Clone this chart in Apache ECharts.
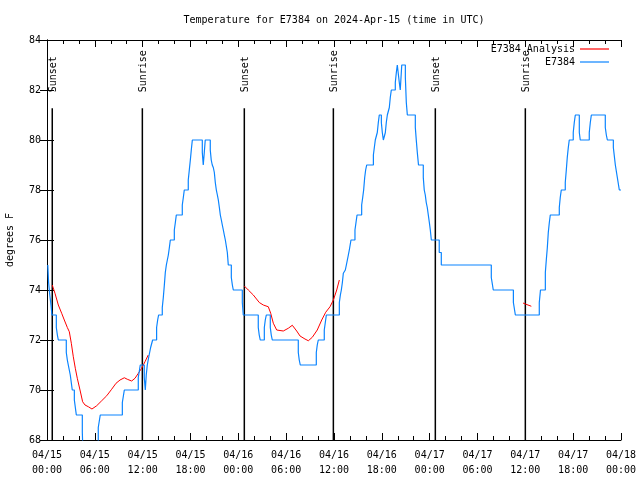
<!DOCTYPE html>
<html><head><meta charset="utf-8">
<script src="https://cdn.jsdelivr.net/npm/echarts@6/dist/echarts.min.js"></script>
<style>html,body{margin:0;padding:0;background:#fff}#c{width:640px;height:480px}</style>
</head><body><div id="c"></div>
<script>
// ---- data (x in hours since 2024-04-15 00:00 UTC) ----
const xTickLabels = ['04/15\n00:00','04/15\n06:00','04/15\n12:00','04/15\n18:00',
  '04/16\n00:00','04/16\n06:00','04/16\n12:00','04/16\n18:00',
  '04/17\n00:00','04/17\n06:00','04/17\n12:00','04/17\n18:00','04/18\n00:00'];

const sunTimes  = [0.66, 11.96, 24.75, 35.92, 48.71, 60.0];
const sunLabels = ['Sunset','Sunrise','Sunset','Sunrise','Sunset','Sunrise'];

// E7384 observations (value held until next point)
const obsE7384 = [
 [0.1,75],[0.2,74.3],[0.35,73.8],[0.5,73.4],[0.62,73],
 [1.17,72.5],[1.3,72.2],[1.42,72],
 [2.42,71.5],[2.55,71.2],[2.67,71],
 [2.92,70.6],[3.17,70],
 [3.43,69.6],[3.68,69],
 [4.43,68.3],[4.56,67],
 [6.43,68.5],[6.68,69],
 [9.45,69.5],[9.7,70],
 [11.45,70.5],[11.7,71],
 [12.2,70.5],[12.33,70],[12.45,70.6],[12.58,71],
 [12.75,71.3],[13.0,71.7],[13.25,72],
 [13.75,72.5],[13.88,72.8],[14.0,73],
 [14.46,73.3],[14.59,73.7],[14.72,74.2],[14.84,74.7],[14.97,75],
 [15.22,75.4],[15.35,75.7],[15.47,76],
 [15.97,76.4],[16.1,76.7],[16.22,77],
 [16.97,77.4],[17.1,77.7],[17.22,78],
 [17.72,78.4],[17.85,78.8],[17.98,79.2],[18.1,79.6],[18.23,80],
 [19.48,79.5],[19.6,79],[19.73,79.5],[19.85,80],
 [20.48,79.6],[20.6,79.2],[20.73,79],[20.86,78.9],[20.99,78.7],[21.11,78.3],[21.24,78],
 [21.37,77.8],[21.49,77.6],[21.62,77.3],[21.74,77],[21.87,76.8],[21.99,76.6],[22.12,76.4],
 [22.24,76.2],[22.37,76],[22.62,75.5],[22.74,75],
 [23.12,74.5],[23.25,74.2],[23.37,74],
 [24.5,73.5],[24.62,73],
 [26.5,72.5],[26.62,72.2],[26.75,72],
 [27.26,72.5],[27.38,72.8],[27.51,73],
 [28.01,72.5],[28.13,72.2],[28.26,72],
 [31.52,71.5],[31.64,71.2],[31.77,71],
 [33.78,71.5],[33.9,71.8],[34.03,72],
 [34.78,72.4],[34.91,72.7],[35.04,73],
 [36.67,73.5],[36.8,73.8],[36.92,74],
 [37.05,74.3],[37.17,74.67],[37.42,74.8],[37.55,75],[37.8,75.4],[37.92,75.6],[38.13,76],
 [38.63,76.4],[38.76,76.7],[38.89,77],
 [39.47,77.4],[39.6,77.7],[39.72,78],
 [39.85,78.5],[39.97,78.8],[40.1,79],
 [40.94,79.4],[41.06,79.7],[41.18,80],
 [41.43,80.3],[41.56,80.7],[41.68,81],
 [41.94,80.7],[42.06,80.3],[42.19,80],
 [42.44,80.3],[42.56,80.7],[42.69,81],
 [42.94,81.3],[43.06,81.7],[43.19,82],
 [43.69,82.3],[43.82,82.7],[43.94,83],
 [44.19,82.3],[44.31,82],[44.5,83],
 [44.95,82.5],[45.07,81.5],[45.2,81],
 [46.2,80.5],[46.32,80],[46.45,79.5],[46.6,79],
 [47.2,78.5],[47.32,78],[47.45,77.8],[47.57,77.5],[47.7,77.3],[47.83,77],[47.96,76.7],[48.08,76.4],[48.21,76],
 [49.2,75.5],[49.46,75],
 [55.73,74.5],[55.98,74],
 [58.5,73.5],[58.75,73],
 [61.75,73.5],[61.9,74],
 [62.51,74.7],[62.63,75.2],[62.76,75.7],[62.88,76.3],[63.01,76.7],[63.13,77],
 [64.26,77.3],[64.38,77.7],[64.51,78],
 [65.01,78.3],[65.14,78.8],[65.26,79.3],[65.39,79.7],[65.51,80],
 [66.01,80.3],[66.14,80.7],[66.27,81],
 [66.77,80.3],[66.89,80],
 [68.02,80.3],[68.15,80.7],[68.28,81],
 [70.03,80.5],[70.16,80.2],[70.29,80],
 [71.04,79.7],[71.29,79],[71.54,78.5],[71.79,78],[72,78]
];

// E7384 Analysis (three separate segments)
const analysisSeg1 = [
 [0.66,74.2],[1.0,73.87],[1.42,73.4],[1.84,73.07],[2.17,72.8],[2.55,72.5],[2.8,72.33],
 [3.05,71.87],[3.3,71.33],[3.55,70.87],[3.8,70.47],[4.14,70.0],[4.47,69.53],[4.77,69.4],
 [5.19,69.33],[5.64,69.24],[6.23,69.37],[6.86,69.57],[7.49,69.77],[8.11,70.03],[8.66,70.27],
 [9.16,70.4],[9.7,70.49],[10.07,70.43],[10.62,70.36],[11.04,70.47],[11.46,70.67],[11.87,70.87],
 [12.29,71.13],[12.7,71.4]
];
const analysisSeg2 = [
 [24.75,74.16],[25.25,74.0],[25.88,73.8],[26.63,73.5],[27.13,73.4],[27.76,73.33],[28.06,73.07],
 [28.39,72.67],[28.81,72.4],[29.64,72.36],[30.27,72.47],[30.77,72.59],[31.32,72.36],[31.74,72.16],
 [32.36,72.04],[32.78,71.97],[33.28,72.11],[33.9,72.4],[34.46,72.8],[34.96,73.11],[35.5,73.33],
 [35.92,73.6],[36.34,74.0],[36.67,74.4]
];
const analysisSeg3 = [[59.71,73.48],[60.0,73.44],[60.25,73.39],[60.75,73.35]];

// ---- chart ----
const FONT = '"DejaVu Sans Mono", monospace';
const sunLineTop = 81.27;
const analysisData = analysisSeg1.concat([[18, null]], analysisSeg2, [[48, null]], analysisSeg3);
const RED = '#ff0000', BLUE = '#0a84ff';

const chart = echarts.init(document.getElementById('c'), null, {renderer: 'canvas'});
const xCommon = {
  type: 'value', min: 0, max: 72, interval: 6,
  axisLine: {show: true, lineStyle: {color: '#000', width: 1}},
  axisTick: {show: true, inside: true, length: 7, lineStyle: {color: '#000'}},
  minorTick: {show: true, splitNumber: 3, length: 4, lineStyle: {color: '#000'}},
  splitLine: {show: false}
};
const yCommon = {
  type: 'value', min: 68, max: 84, interval: 2,
  axisLine: {show: true, lineStyle: {color: '#000', width: 1}},
  axisTick: {show: true, inside: true, length: 7, lineStyle: {color: '#000'}},
  splitLine: {show: false}
};
const legendIcon = 'path://M0,0H29V1.2H0Z';
chart.setOption({
  animation: false,
  backgroundColor: '#fff',
  title: {
    text: 'Temperature for E7384 on 2024-Apr-15 (time in UTC)',
    left: 334, top: 15, textAlign: 'center', padding: 0,
    textStyle: {fontFamily: FONT, fontSize: 10, fontWeight: 'normal', color: '#000'}
  },
  legend: {
    data: [{name: 'E7384 Analysis', icon: legendIcon}, {name: 'E7384', icon: legendIcon}],
    orient: 'vertical', right: 31, top: 44, align: 'right',
    itemWidth: 29, itemHeight: 10, itemGap: 3, padding: 0,
    textStyle: {fontFamily: FONT, fontSize: 10, color: '#000'}
  },
  grid: {left: 47, right: 19, top: 40, bottom: 40, containLabel: false, outerBoundsMode: 'none'},
  xAxis: [
    Object.assign({}, xCommon, {position: 'bottom',
      axisLabel: {color: '#000', fontFamily: FONT, fontSize: 10, lineHeight: 15, margin: 8,
        formatter: v => xTickLabels[Math.round(v / 6)]}}),
    Object.assign({}, xCommon, {position: 'top', axisLabel: {show: false}})
  ],
  yAxis: [
    Object.assign({}, yCommon, {position: 'left',
      name: 'degrees F', nameLocation: 'middle', nameGap: 32,
      nameTextStyle: {fontFamily: FONT, fontSize: 10, color: '#000'},
      axisLabel: {color: '#000', fontFamily: FONT, fontSize: 10, margin: 6}}),
    Object.assign({}, yCommon, {position: 'right', axisLabel: {show: false}})
  ],
  series: [
    {
      type: 'custom', name: 'sun', xAxisIndex: 0, yAxisIndex: 0, z: 1,
      data: sunTimes.map(t => [t, sunLineTop]),
      renderItem: function (params, api) {
        const t = api.value(0);
        const p0 = api.coord([t, 68]);
        const p1 = api.coord([t, api.value(1)]);
        return {type: 'group', children: [
          {type: 'line', shape: {x1: p0[0], y1: p0[1], x2: p1[0], y2: p1[1]},
           style: {stroke: '#000', lineWidth: 1.5}},
          {type: 'text', x: p1[0] + 1, y: p1[1] - 16, rotation: Math.PI / 2,
           style: {text: sunLabels[params.dataIndex], fill: '#000',
             font: '10px ' + FONT, align: 'left', verticalAlign: 'middle'}}
        ]};
      }
    },
    {
      type: 'line', name: 'E7384 Analysis', data: analysisData, connectNulls: false,
      showSymbol: false, symbol: 'none', z: 3,
      lineStyle: {color: RED, width: 1}, itemStyle: {color: RED}
    },
    {
      type: 'line', name: 'E7384', data: obsE7384, step: 'end',
      showSymbol: false, symbol: 'none', z: 4, clip: true,
      lineStyle: {color: BLUE, width: 1.2}, itemStyle: {color: BLUE}
    }
  ]
});
</script></body></html>
